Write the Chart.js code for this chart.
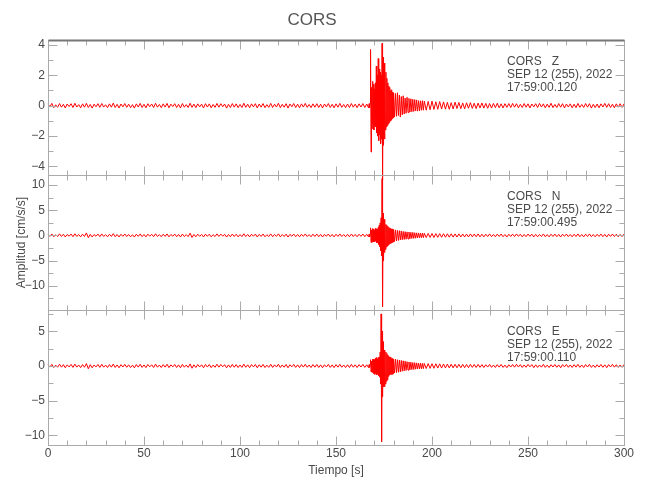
<!DOCTYPE html>
<html>
<head>
<meta charset="utf-8">
<script src="https://cdn.jsdelivr.net/npm/chart.js@4.4.1/dist/chart.umd.min.js"></script>
<style>
  html, body { margin: 0; padding: 0; background: #fff; }
</style>
</head>
<body>
<canvas id="sismoChart" width="650" height="500"></canvas>
<script>
// Tiempo [s]: cada 1 s, cada 0.25 s en la llegada fuerte y 0.5 s en la coda
const tiempo = [
  0, 1, 2, 3, 4, 5, 6, 7, 8, 9,
  10, 11, 12, 13, 14, 15, 16, 17, 18, 19,
  20, 21, 22, 23, 24, 25, 26, 27, 28, 29,
  30, 31, 32, 33, 34, 35, 36, 37, 38, 39,
  40, 41, 42, 43, 44, 45, 46, 47, 48, 49,
  50, 51, 52, 53, 54, 55, 56, 57, 58, 59,
  60, 61, 62, 63, 64, 65, 66, 67, 68, 69,
  70, 71, 72, 73, 74, 75, 76, 77, 78, 79,
  80, 81, 82, 83, 84, 85, 86, 87, 88, 89,
  90, 91, 92, 93, 94, 95, 96, 97, 98, 99,
  100, 101, 102, 103, 104, 105, 106, 107, 108, 109,
  110, 111, 112, 113, 114, 115, 116, 117, 118, 119,
  120, 121, 122, 123, 124, 125, 126, 127, 128, 129,
  130, 131, 132, 133, 134, 135, 136, 137, 138, 139,
  140, 141, 142, 143, 144, 145, 146, 147, 148, 149,
  150, 151, 152, 153, 154, 155, 156, 157, 158, 159,
  160, 161, 162, 163, 164, 165, 166, 167,
  167.25, 167.5, 167.75, 168, 168.25, 168.5, 168.75, 169, 169.25, 169.5,
  169.75, 170, 170.25, 170.5, 170.75, 171, 171.25, 171.5, 171.75, 172,
  172.25, 172.5, 172.75, 173, 173.25, 173.5, 173.75, 174, 174.25, 174.5,
  174.75, 175, 175.25, 175.5, 175.75, 176, 176.25, 176.5, 176.75, 177,
  177.25, 177.5, 177.75, 178, 178.25, 178.5, 178.75, 179, 179.25, 179.5,
  179.75, 180,
  180.5, 181, 181.5, 182, 182.5, 183, 183.5, 184, 184.5, 185,
  185.5, 186, 186.5, 187, 187.5, 188, 188.5, 189, 189.5, 190,
  190.5, 191, 191.5, 192, 192.5, 193, 193.5, 194, 194.5, 195,
  195.5, 196,
  197, 198, 199, 200, 201, 202, 203, 204, 205, 206,
  207, 208, 209, 210, 211, 212, 213, 214, 215, 216,
  217, 218, 219, 220, 221, 222, 223, 224, 225, 226,
  227, 228, 229, 230, 231, 232, 233, 234, 235, 236,
  237, 238, 239, 240, 241, 242, 243, 244, 245, 246,
  247, 248, 249, 250, 251, 252, 253, 254, 255, 256,
  257, 258, 259, 260, 261, 262, 263, 264, 265, 266,
  267, 268, 269, 270, 271, 272, 273, 274, 275, 276,
  277, 278, 279, 280, 281, 282, 283, 284, 285, 286,
  287, 288, 289, 290, 291, 292, 293, 294, 295, 296,
  297, 298, 299, 300
];

// Componente Z [cm/s/s]
const compZ = [
  0.12, -0.08, 0.15, -0.13, 0.06, -0.11, 0.14, -0.1, 0.09, -0.15,
  0.11, -0.06, 0.13, -0.12, 0.16, -0.09, 0.07, -0.14, 0.12, -0.1,
  0.15, -0.12, 0.08, -0.16, 0.1, -0.07, 0.13, -0.11, 0.14, -0.09,
  0.06, -0.13, 0.12, -0.1, 0.17, -0.12, 0.09, -0.15, 0.11, -0.08,
  0.14, -0.11, 0.1, -0.13, 0.07, -0.16, 0.12, -0.09, 0.15, -0.12,
  0.09, -0.14, 0.13, -0.07, 0.11, -0.12, 0.16, -0.1, 0.08, -0.13,
  0.12, -0.09, 0.15, -0.14, 0.1, -0.06, 0.13, -0.12, 0.09, -0.15,
  0.14, -0.1, 0.07, -0.12, 0.16, -0.11, 0.1, -0.13, 0.12, -0.08,
  0.1, -0.15, 0.13, -0.09, 0.12, -0.14, 0.08, -0.11, 0.15, -0.1,
  0.13, -0.07, 0.11, -0.16, 0.09, -0.12, 0.14, -0.1, 0.12, -0.13,
  0.08, -0.12, 0.16, -0.11, 0.1, -0.14, 0.12, -0.08, 0.13, -0.15,
  0.11, -0.1, 0.14, -0.13, 0.07, -0.11, 0.15, -0.12, 0.1, -0.09,
  0.16, -0.13, 0.09, -0.1, 0.13, -0.16, 0.11, -0.07, 0.14, -0.12,
  0.1, -0.14, 0.12, -0.09, 0.15, -0.11, 0.08, -0.13, 0.12, -0.1,
  0.13, -0.12, 0.1, -0.15, 0.11, -0.08, 0.14, -0.12, 0.09, -0.14,
  0.12, -0.1, 0.15, -0.11, 0.08, -0.13, 0.11, -0.12, 0.14, -0.1,
  0.1, -0.13, 0.12, -0.09, 0.14, -0.12, 0.11, -0.15,
  0.13, -0.12, 0.15, 3.7, -3.05, 1.2, -1.5, 1.6, -1.2, 1.4,
  -1.6, 1.1, -1.3, 1.5, -1.4, 2.6, -1.8, 2.0, -2.0, 3.1,
  -2.3, 2.4, -1.9, 2.2, -2.5, 2.0, -2.2, 4.1, -4.9, 3.2,
  -2.6, 2.8, -2.2, 1.9, -1.6, 2.2, -1.4, 1.8, -1.3, 1.5,
  -1.2, 1.3, -1.1, 1.2, -1.0, 1.0, -0.95, 1.05, -0.85, 0.9,
  -0.8, 0.85,
  -0.75, 0.8, -0.7, 0.85, -0.65, 0.7, -0.75, 0.6, -0.6, 0.65,
  -0.55, 0.5, -0.5, 0.55, -0.45, 0.48, -0.42, 0.45, -0.4, 0.42,
  -0.38, 0.4, -0.35, 0.38, -0.36, 0.33, -0.35, 0.32, -0.3, 0.33,
  -0.3, 0.3,
  -0.3, 0.28, -0.27, 0.3, -0.25, 0.26, -0.24, 0.27, -0.22, 0.25,
  -0.23, 0.22, -0.24, 0.2, -0.22, 0.23, -0.19, 0.21, -0.2, 0.18,
  -0.21, 0.19, -0.17, 0.2, -0.18, 0.16, -0.19, 0.17, -0.15, 0.18,
  -0.16, 0.15, -0.17, 0.14, -0.16, 0.15, -0.13, 0.16, -0.14, 0.12,
  -0.15, 0.13, -0.11, 0.14, -0.12, 0.15, -0.1, 0.13, -0.14, 0.09,
  -0.12, 0.14, -0.1, 0.12, -0.15, 0.11, -0.08, 0.13, -0.12, 0.15,
  -0.09, 0.12, -0.14, 0.1, -0.11, 0.16, -0.13, 0.08, -0.12, 0.14,
  -0.1, 0.13, -0.15, 0.11, -0.09, 0.12, -0.14, 0.1, -0.13, 0.15,
  -0.11, 0.08, -0.12, 0.14, -0.1, 0.13, -0.16, 0.09, -0.12, 0.11,
  -0.14, 0.12, -0.09, 0.15, -0.11, 0.13, -0.12, 0.1, -0.14, 0.12,
  -0.1, 0.13, -0.11, 0.12
];

// Componente N [cm/s/s]
const compN = [
  0.25, -0.18, 0.3, -0.27, 0.15, -0.22, 0.32, -0.2, 0.24, -0.3,
  0.2, -0.15, 0.28, -0.25, 0.33, -0.19, 0.17, -0.28, 0.26, -0.21,
  0.5, -0.45, 0.22, -0.3, 0.18, -0.16, 0.27, -0.24, 0.3, -0.2,
  0.16, -0.26, 0.24, -0.2, 0.35, -0.25, 0.19, -0.3, 0.23, -0.17,
  0.28, -0.22, 0.2, -0.27, 0.15, -0.32, 0.25, -0.19, 0.3, -0.24,
  0.18, -0.28, 0.26, -0.15, 0.22, -0.25, 0.33, -0.2, 0.17, -0.26,
  0.24, -0.19, 0.3, -0.28, 0.2, -0.14, 0.27, -0.25, 0.19, -0.3,
  0.28, -0.2, 0.16, -0.24, 0.45, -0.4, 0.2, -0.26, 0.25, -0.17,
  0.21, -0.3, 0.27, -0.18, 0.25, -0.28, 0.16, -0.22, 0.31, -0.2,
  0.26, -0.15, 0.23, -0.32, 0.19, -0.25, 0.28, -0.21, 0.24, -0.27,
  0.17, -0.24, 0.33, -0.22, 0.2, -0.29, 0.25, -0.16, 0.27, -0.3,
  0.22, -0.2, 0.28, -0.26, 0.15, -0.23, 0.3, -0.25, 0.2, -0.18,
  0.32, -0.27, 0.18, -0.2, 0.26, -0.32, 0.22, -0.15, 0.28, -0.24,
  0.2, -0.28, 0.24, -0.19, 0.3, -0.22, 0.17, -0.26, 0.25, -0.2,
  0.27, -0.25, 0.2, -0.3, 0.22, -0.17, 0.28, -0.24, 0.19, -0.28,
  0.24, -0.2, 0.3, -0.22, 0.17, -0.26, 0.22, -0.25, 0.28, -0.2,
  0.2, -0.26, 0.24, -0.18, 0.28, -0.24, 0.22, -0.3,
  0.25, -0.22, 0.3, 1.5, -1.4, 1.1, -1.3, 1.4, -1.0, 1.2,
  -1.3, 1.0, -1.2, 1.4, -1.1, 1.3, -1.5, 1.2, -1.4, 1.6,
  -1.8, 2.0, -2.2, 2.5, -3.0, 3.5, -4.0, 11.3, -14.2, 4.4,
  -5.0, 3.2, -3.4, 2.6, -2.8, 2.2, -2.3, 2.0, -2.1, 1.8,
  -1.9, 1.6, -1.7, 1.5, -1.6, 1.4, -1.5, 1.3, -1.4, 1.3,
  -1.3, 1.2,
  -1.2, 1.1, -1.1, 1.0, -1.0, 0.95, -0.9, 0.9, -0.85, 0.8,
  -0.8, 0.75, -0.75, 0.7, -0.7, 0.68, -0.65, 0.62, -0.6, 0.6,
  -0.58, 0.55, -0.55, 0.52, -0.5, 0.5, -0.48, 0.46, -0.45, 0.45,
  -0.44, 0.42,
  -0.42, 0.4, -0.4, 0.38, -0.4, 0.36, -0.38, 0.35, -0.36, 0.34,
  -0.35, 0.33, -0.34, 0.32, -0.33, 0.3, -0.32, 0.31, -0.3, 0.28,
  -0.3, 0.27, -0.29, 0.3, -0.26, 0.28, -0.25, 0.3, -0.27, 0.24,
  -0.28, 0.25, -0.22, 0.3, -0.24, 0.2, -0.27, 0.26, -0.2, 0.28,
  -0.25, 0.18, -0.3, 0.24, -0.2, 0.27, -0.23, 0.3, -0.19, 0.25,
  -0.27, 0.2, -0.24, 0.28, -0.17, 0.25, -0.3, 0.22, -0.26, 0.19,
  -0.22, 0.3, -0.25, 0.18, -0.28, 0.24, -0.2, 0.27, -0.24, 0.21,
  -0.3, 0.25, -0.18, 0.28, -0.23, 0.2, -0.27, 0.24, -0.21, 0.3,
  -0.24, 0.19, -0.28, 0.25, -0.2, 0.3, -0.25, 0.18, -0.26, 0.23,
  -0.2, 0.27, -0.24, 0.21, -0.3, 0.25, -0.19, 0.28, -0.22, 0.24,
  -0.26, 0.2, -0.23, 0.27
];

// Componente E [cm/s/s]
const compE = [
  0.2, -0.15, 0.24, -0.22, 0.12, -0.18, 0.26, -0.17, 0.2, -0.25,
  0.17, -0.13, 0.23, -0.2, 0.27, -0.16, 0.14, -0.23, 0.21, -0.18,
  0.35, -0.4, 0.19, -0.25, 0.15, -0.13, 0.22, -0.2, 0.25, -0.17,
  0.13, -0.22, 0.2, -0.17, 0.28, -0.21, 0.16, -0.25, 0.19, -0.14,
  0.23, -0.18, 0.17, -0.22, 0.12, -0.26, 0.21, -0.16, 0.25, -0.2,
  0.15, -0.23, 0.21, -0.12, 0.18, -0.21, 0.27, -0.17, 0.14, -0.22,
  0.2, -0.16, 0.25, -0.23, 0.17, -0.12, 0.22, -0.21, 0.16, -0.25,
  0.23, -0.17, 0.13, -0.2, 0.3, -0.32, 0.17, -0.22, 0.21, -0.14,
  0.18, -0.25, 0.22, -0.15, 0.21, -0.23, 0.13, -0.18, 0.26, -0.17,
  0.22, -0.12, 0.19, -0.26, 0.16, -0.21, 0.23, -0.18, 0.2, -0.22,
  0.14, -0.2, 0.27, -0.18, 0.17, -0.24, 0.21, -0.13, 0.22, -0.25,
  0.18, -0.17, 0.23, -0.22, 0.12, -0.19, 0.25, -0.21, 0.17, -0.15,
  0.26, -0.22, 0.15, -0.17, 0.22, -0.26, 0.18, -0.12, 0.23, -0.2,
  0.17, -0.23, 0.2, -0.16, 0.25, -0.18, 0.14, -0.22, 0.21, -0.17,
  0.22, -0.21, 0.17, -0.25, 0.18, -0.14, 0.23, -0.2, 0.16, -0.23,
  0.2, -0.17, 0.25, -0.18, 0.14, -0.22, 0.18, -0.21, 0.23, -0.17,
  0.17, -0.22, 0.2, -0.15, 0.23, -0.2, 0.18, -0.25,
  0.2, -0.18, 0.22, 0.9, -0.85, 0.7, -0.9, 1.0, -0.8, 0.95,
  -1.1, 0.9, -1.2, 1.1, -1.0, 1.2, -1.3, 1.0, -1.1, 1.2,
  -1.4, 1.3, -1.6, 2.0, -2.6, 7.5, -10.9, 5.0, -4.4, 3.5,
  -3.0, 2.3, -3.0, 2.2, -2.6, 2.0, -2.2, 1.8, -2.0, 1.6,
  -1.5, 1.4, -1.3, 1.3, -1.2, 1.3, -1.2, 1.1, -1.2, 1.1,
  -1.1, 1.0,
  -1.0, 1.0, -0.95, 0.9, -0.9, 0.85, -0.85, 0.8, -0.75, 0.75,
  -0.7, 0.7, -0.65, 0.62, -0.6, 0.58, -0.55, 0.55, -0.52, 0.5,
  -0.5, 0.48, -0.46, 0.45, -0.44, 0.42, -0.42, 0.4, -0.4, 0.38,
  -0.38, 0.36,
  -0.36, 0.35, -0.34, 0.33, -0.33, 0.32, -0.3, 0.31, -0.3, 0.29,
  -0.28, 0.28, -0.27, 0.26, -0.27, 0.25, -0.26, 0.24, -0.25, 0.23,
  -0.24, 0.22, -0.23, 0.24, -0.2, 0.22, -0.21, 0.23, -0.19, 0.2,
  -0.22, 0.18, -0.15, 0.23, -0.19, 0.14, -0.21, 0.2, -0.16, 0.22,
  -0.2, 0.13, -0.24, 0.18, -0.15, 0.22, -0.17, 0.25, -0.14, 0.2,
  -0.21, 0.15, -0.18, 0.23, -0.12, 0.2, -0.24, 0.17, -0.2, 0.14,
  -0.17, 0.24, -0.2, 0.13, -0.22, 0.19, -0.15, 0.21, -0.18, 0.16,
  -0.25, 0.2, -0.13, 0.22, -0.18, 0.15, -0.21, 0.19, -0.16, 0.24,
  -0.19, 0.14, -0.22, 0.2, -0.15, 0.24, -0.2, 0.13, -0.21, 0.18,
  -0.15, 0.22, -0.19, 0.16, -0.24, 0.2, -0.14, 0.23, -0.17, 0.19,
  -0.2, 0.15, -0.18, 0.22
];

const estacion = 'CORS';
const componentes = ['Z', 'N', 'E'];
const fecha = 'SEP 12 (255), 2022';
const horaInicio = ['17:59:00.120', '17:59:00.495', '17:59:00.110'];

const fuente = "'Liberation Sans', 'DejaVu Sans', sans-serif";
const colorTexto = '#4a4a4a';
const colorEje = '#aaaaaa';

function puntos(valores) {
  return tiempo.map((t, i) => ({ x: t, y: valores[i] }));
}

// deja solo los ticks que caen en multiplos del paso
function soloMultiplos(paso) {
  return scale => {
    scale.ticks = scale.ticks.filter(t => Math.abs(t.value / paso - Math.round(t.value / paso)) < 1e-6);
  };
}

function esMayor(v, mayor) {
  return Math.abs(v / mayor - Math.round(v / mayor)) < 1e-6;
}

function ejeY(min, max, paso, mayor, titulo) {
  return {
    type: 'linear',
    position: 'left',
    stack: 'sismo',
    stackWeight: 1,
    min: min,
    max: max,
    grid: { display: false, drawTicks: false },
    border: { display: false },
    ticks: {
      stepSize: paso,
      includeBounds: false,
      autoSkip: false,
      padding: 3,
      color: colorTexto,
      font: { family: fuente, size: 12 },
      callback: v => (esMayor(v, mayor) ? String(v).replace('-', '\u2212') : '')
    },
    title: titulo ? {
      display: true,
      text: titulo,
      color: colorTexto,
      font: { family: fuente, size: 12 },
      padding: { top: 14, bottom: 0 }
    } : { display: false },
    afterBuildTicks: soloMultiplos(paso),
    afterFit: scale => { scale.width = 48; }
  };
}

// marco de cada panel con ticks hacia adentro y textos de la estacion
const marcoPaneles = {
  id: 'marcoPaneles',
  afterDatasetsDraw(chart) {
    const ctx = chart.ctx;
    const area = chart.chartArea;
    const ejeX = chart.scales.x;
    ctx.save();
    ['yZ', 'yN', 'yE'].forEach((id, k) => {
      const s = chart.scales[id];
      const top = Math.round(s.top) + 0.5;
      const bottom = Math.round(s.bottom) + 0.5;
      const left = Math.round(area.left) + 0.5;
      const right = Math.round(area.right) + 0.5;
      ctx.lineWidth = 1;
      ctx.strokeStyle = colorEje;
      ctx.strokeRect(left, top, right - left, bottom - top);
      ctx.beginPath();
      ejeX.ticks.forEach(t => {
        const px = Math.round(ejeX.getPixelForValue(t.value)) + 0.5;
        const len = t.value % 50 === 0 ? 9 : 5;
        ctx.moveTo(px, top); ctx.lineTo(px, top + len);
        ctx.moveTo(px, bottom); ctx.lineTo(px, bottom - len);
      });
      const mayor = k === 0 ? 2 : 5;
      s.ticks.forEach(t => {
        const py = Math.round(s.getPixelForValue(t.value)) + 0.5;
        const len = esMayor(t.value, mayor) ? 9 : 5;
        ctx.moveTo(left, py); ctx.lineTo(left + len, py);
        ctx.moveTo(right, py); ctx.lineTo(right - len, py);
      });
      ctx.stroke();
      if (k === 0) {
        ctx.strokeStyle = '#777777';
        ctx.lineWidth = 2;
        ctx.beginPath();
        ctx.moveTo(left, top); ctx.lineTo(right, top);
        ctx.stroke();
      }
      ctx.fillStyle = colorTexto;
      ctx.font = '12px ' + fuente;
      ctx.textBaseline = 'middle';
      ctx.textAlign = 'left';
      const tx = area.right - 117;
      ctx.fillText(estacion + '   ' + componentes[k], tx, s.top + 21.5);
      ctx.fillText(fecha, tx, s.top + 35);
      ctx.fillText(horaInicio[k], tx, s.top + 48);
    });
    ctx.restore();
  }
};

const ctx = document.getElementById('sismoChart').getContext('2d');
new Chart(ctx, {
  type: 'line',
  data: {
    datasets: [
      { label: 'Z', data: puntos(compZ), yAxisID: 'yZ' },
      { label: 'N', data: puntos(compN), yAxisID: 'yN' },
      { label: 'E', data: puntos(compE), yAxisID: 'yE' }
    ]
  },
  options: {
    responsive: false,
    animation: false,
    layout: { padding: { left: 0, right: 26, top: 0, bottom: 0 } },
    elements: {
      line: { borderColor: '#ff0000', borderWidth: 1, tension: 0 },
      point: { radius: 0 }
    },
    datasets: { line: { clip: false } },
    plugins: {
      legend: { display: false },
      tooltip: { enabled: false },
      title: {
        display: true,
        text: estacion,
        color: '#555555',
        font: { family: fuente, size: 17, weight: 'normal' },
        padding: { top: 10, bottom: 9.6 }
      }
    },
    scales: {
      x: {
        type: 'linear',
        min: 0,
        max: 300,
        grid: { display: false, drawTicks: false },
        border: { display: false },
        ticks: {
          stepSize: 10,
          autoSkip: false,
          maxRotation: 0,
          padding: 1,
          color: colorTexto,
          font: { family: fuente, size: 12 },
          callback: v => (v % 50 === 0 ? String(v) : '')
        },
        title: {
          display: true,
          text: 'Tiempo [s]',
          color: colorTexto,
          font: { family: fuente, size: 12 },
          padding: { top: 0, bottom: 22 }
        },
        afterFit: scale => { scale.height = 55; }
      },
      // el orden va de abajo hacia arriba en la pila
      yE: ejeY(-11.37, 8.06, 2.5, 5, null),
      yN: ejeY(-14.8, 12, 2.5, 5, 'Amplitud [cm/s/s]'),
      yZ: ejeY(-4.56, 4.32, 1, 2, null)
    }
  },
  plugins: [marcoPaneles]
});
</script>
